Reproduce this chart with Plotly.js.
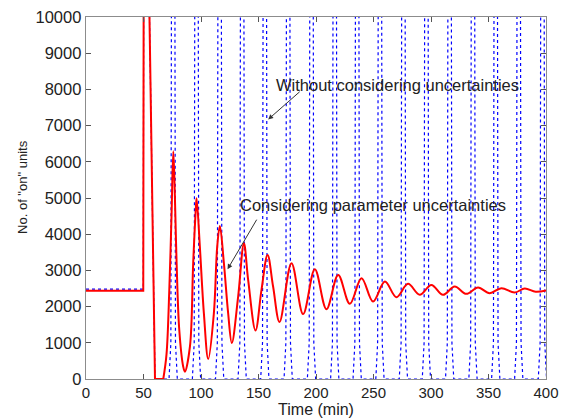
<!DOCTYPE html>
<html>
<head>
<meta charset="utf-8">
<script src="https://cdn.plot.ly/plotly-3.0.1.min.js"></script>
<style>
  html, body { margin: 0; padding: 0; background: #ffffff; }
  #chart { width: 564px; height: 420px; }
</style>
</head>
<body>
<div id="chart"></div>
<script>
// ---- Data ----
// Blue dotted: without considering uncertainties (time in min, units on)
const blueTime = [0, 49.8, 50.2, 54, 60,
  72.2, 73.8, 75.8, 77.8, 79.4,
  92.5, 94.1, 96.1, 98.1, 99.7,
  112.6, 114.2, 116.2, 118.2, 119.8,
  132.2, 133.8, 135.8, 137.8, 139.4,
  151.9, 153.5, 155.5, 157.5, 159.1,
  172.2, 173.8, 175.8, 177.8, 179.4,
  192.5, 194.1, 196.1, 198.1, 199.7,
  212.7, 214.3, 216.3, 218.3, 219.9,
  232.2, 233.8, 235.8, 237.8, 239.4,
  252, 253.6, 255.6, 257.6, 259.2,
  272.4, 274, 276, 278, 279.6,
  292.4, 294, 296, 298, 299.6,
  312.6, 314.2, 316.2, 318.2, 319.8,
  332.9, 334.5, 336.5, 338.5, 340.1,
  352.7, 354.3, 356.3, 358.3, 359.9,
  372.7, 374.3, 376.3, 378.3, 379.9,
  393.3, 394.9, 396.9, 398.9, 400.5];
const blueUnits = [2480, 2480, 12000, 12500, 0,
  0, 1000, 40000, 1000, 0,
  0, 1000, 40000, 1000, 0,
  0, 1000, 40000, 1000, 0,
  0, 1000, 40000, 1000, 0,
  0, 1000, 40000, 1000, 0,
  0, 1000, 40000, 1000, 0,
  0, 1000, 40000, 1000, 0,
  0, 1000, 40000, 1000, 0,
  0, 1000, 40000, 1000, 0,
  0, 1000, 40000, 1000, 0,
  0, 1000, 40000, 1000, 0,
  0, 1000, 40000, 1000, 0,
  0, 1000, 40000, 1000, 0,
  0, 1000, 40000, 1000, 0,
  0, 1000, 40000, 1000, 0,
  0, 1000, 40000, 1000, 0,
  0, 1000, 40000, 1000, 0];

// Red solid: considering parameter uncertainties
// early part (flat, spike, zero floor)
const redTimeEarly = [0, 10, 20, 30, 40, 49.8, 50.2, 54, 60, 67.2];
const redUnitsEarly = [2440, 2435, 2450, 2425, 2440, 2440, 12000, 12500, 0, 0];
// damped oscillation
const redTime = [67.2, 70, 72.4, 74.4, 75.9, 77.3, 78.8, 81.1, 84.5, 86,
  90.4, 93.2, 95.6, 96.2, 99, 102.5, 106.3,
  111.2, 114.1, 116.4, 119.9, 123.6, 126.8,
  132.3, 137.3, 141, 147.4, 152.6, 157.9, 162.7, 168.3,
  178.7, 188.8, 199, 209.1, 219.3, 229.4, 239.6, 249.6, 259.9, 269.9,
  280, 290.2, 300.3, 310.4, 320.6, 330.7, 340.9, 351, 361.2, 372.7, 381.5, 391, 400];
const redUnits = [0, 680, 2430, 4540, 6290, 5036, 3199, 1360, 347, 200,
  900, 3199, 4760, 4990, 3657, 1820, 551,
  1820, 3657, 4228, 3199, 1820, 993,
  2278, 3751, 2739, 1340, 2463, 3428, 2554, 1575,
  3199, 1793, 3033, 1930, 2876, 2077, 2785, 2140, 2692, 2261,
  2628, 2325, 2600, 2325, 2554, 2352, 2526, 2372, 2510, 2388, 2499, 2410, 2445];

const xTicks = [0, 50, 100, 150, 200, 250, 300, 350, 400];
const yTicks = [0, 1000, 2000, 3000, 4000, 5000, 6000, 7000, 8000, 9000, 10000];

const labelWithout = 'Without considering uncertainties';
const labelWith = 'Considering parameter uncertainties';
const xTitle = 'Time (min)';
const yTitle = 'No. of "on" units';

// ---- Chart ----
const font = 'Arial, "Liberation Sans", sans-serif';
const traces = [
  { x: blueTime, y: blueUnits, type: 'scatter', mode: 'lines',
    line: { color: '#0000ff', width: 1.2, dash: 'dot' }, showlegend: false, hoverinfo: 'skip' },
  { x: redTimeEarly, y: redUnitsEarly, type: 'scatter', mode: 'lines',
    line: { color: '#ff0000', width: 2 }, showlegend: false, hoverinfo: 'skip' },
  { x: redTime, y: redUnits, type: 'scatter', mode: 'lines',
    line: { color: '#ff0000', width: 2, shape: 'spline', smoothing: 1 }, showlegend: false, hoverinfo: 'skip' }
];

const axisCommon = {
  showgrid: false, zeroline: false, showline: true, linecolor: '#8c8c8c', linewidth: 1.3,
  mirror: 'ticks', ticks: 'inside', ticklen: 5, tickcolor: '#555', tickwidth: 1,
  fixedrange: true
};

const layout = {
  width: 564, height: 420,
  margin: { l: 86, r: 17.5, t: 16.7, b: 40.7 },
  paper_bgcolor: '#ffffff', plot_bgcolor: '#ffffff',
  xaxis: Object.assign({}, axisCommon, {
    range: [0, 400], tickvals: xTicks, ticktext: xTicks.map(String),
    tickfont: { family: font, size: 15, color: '#222' },
    title: { text: xTitle, font: { family: font, size: 16, color: '#222' }, standoff: 1 }
  }),
  yaxis: Object.assign({}, axisCommon, {
    range: [0, 10000], tickvals: yTicks, ticktext: yTicks.map(String),
    tickfont: { family: font, size: 16.5, color: '#222' }
  }),
  annotations: [
    { x: -0.1396, y: 0.530, xref: 'paper', yref: 'paper', text: yTitle, textangle: -90,
      showarrow: false, xanchor: 'center', yanchor: 'middle',
      font: { family: font, size: 13, color: '#222' } },
    { x: 270.6, y: 8116, xref: 'x', yref: 'y', text: labelWithout, showarrow: false,
      font: { family: font, size: 16.5, color: '#222' } },
    { x: 249.3, y: 4807, xref: 'x', yref: 'y', text: labelWith, showarrow: false,
      font: { family: font, size: 16.5, color: '#222' } },
    { x: 158.4, y: 7170, xref: 'x', yref: 'y', text: '', showarrow: true,
      ax: 33, ay: -29, arrowhead: 2, arrowsize: 1, arrowwidth: 1, arrowcolor: '#333' },
    { x: 123.1, y: 3034, xref: 'x', yref: 'y', text: '', showarrow: true,
      ax: 30, ay: -51, arrowhead: 2, arrowsize: 1, arrowwidth: 1, arrowcolor: '#333' }
  ]
};

Plotly.newPlot('chart', traces, layout, { staticPlot: true, displayModeBar: false });
</script>
</body>
</html>
